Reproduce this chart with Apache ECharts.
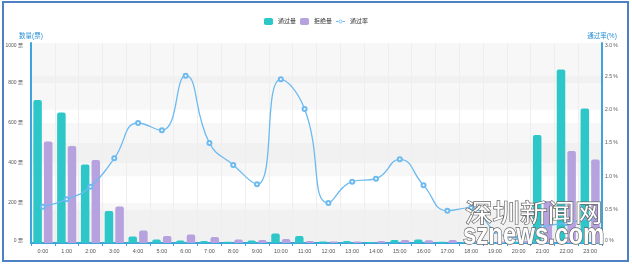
<!DOCTYPE html>
<html>
<head>
<meta charset="utf-8">
<script src="https://cdn.jsdelivr.net/npm/echarts@6/dist/echarts.min.js"></script>
<style>
html,body{margin:0;padding:0;background:#fff;}
#chart{width:632px;height:265px;}
</style>
</head>
<body>
<div id="chart"></div>
<script>
var categories = ['0:00','1:00','2:00','3:00','4:00','5:00','6:00','7:00','8:00','9:00','10:00','11:00','12:00','13:00','14:00','15:00','16:00','17:00','18:00','19:00','20:00','21:00','22:00','23:00'];
var passCount = [715, 652, 393, 160, 32, 18, 12, 10, 6, 12, 47, 35, 7, 10, 5, 15, 18, 6, 5, 5, 8, 540, 868, 673];
var rejectCount = [507, 485, 415, 182, 62, 35, 42, 30, 18, 15, 20, 10, 7, 8, 10, 15, 14, 15, 10, 8, 10, 210, 460, 418];
var passRate = [0.545, 0.655, 0.845, 1.27, 1.80, 1.69, 2.51, 1.50, 1.17, 0.88, 2.455, 2.01, 0.60, 0.92, 0.965, 1.255, 0.865, 0.485, 0.53, 0.18, 0.08, 0.24, 0.30, 0.37];
var seriesNames = ['通过量', '拒绝量', '通过率'];

var FONT = '"Liberation Sans", "Noto Sans CJK SC", sans-serif';
var axisBlue = '#3fa3dc';
var band = ['rgba(200,200,200,0.14)', 'rgba(255,255,255,0)'];
var lineIcon = 'path://M0,2h4v1.2h-4z M8,2h4v1.2h-4z M6,0a2.6,2.6 0 1,0 0.001,0z M6,1a1.6,1.6 0 1,1 -0.001,0z';

var chart = echarts.init(document.getElementById('chart'), null, {renderer: 'canvas'});
chart.setOption({
  animation: false,
  textStyle: {fontFamily: FONT},
  color: ['#2ec7c9', '#b6a2de', '#6cbaf0'],
  legend: {
    top: 13,
    left: 'center',
    itemWidth: 9,
    itemHeight: 7,
    itemGap: 4,
    textStyle: {fontSize: 6, color: '#333', fontFamily: FONT},
    data: [{name: seriesNames[0]}, {name: seriesNames[1]}, {name: seriesNames[2], icon: lineIcon}]
  },
  grid: {left: 31, right: 30, top: 43, bottom: 22, containLabel: false},
  xAxis: {
    type: 'category',
    data: categories,
    boundaryGap: true,
    axisLine: {lineStyle: {color: axisBlue, width: 2}},
    axisTick: {show: true, length: 3, lineStyle: {color: axisBlue}},
    axisLabel: {fontSize: 5.5, color: '#555', margin: 6, interval: 0},
    splitLine: {show: true, lineStyle: {color: '#eeeeee'}}
  },
  yAxis: [{
    type: 'value',
    name: '数量(票)',
    nameLocation: 'end',
    nameGap: 4,
    nameTextStyle: {fontSize: 6.5, color: '#2a8fd6', align: 'center'},
    min: 0, max: 1000, interval: 200,
    axisLine: {show: true, lineStyle: {color: axisBlue, width: 2}},
    axisTick: {show: false},
    axisLabel: {fontSize: 5, color: '#555', margin: 8,
      formatter: function (v) { return v + ' 票'; },
      verticalAlignMinLabel: 'bottom', verticalAlignMaxLabel: 'top'},
    splitLine: {show: false},
    splitArea: {show: true, areaStyle: {color: band}}
  }, {
    type: 'value',
    name: '通过率(%)',
    nameLocation: 'end',
    nameGap: 4,
    nameTextStyle: {fontSize: 6.5, color: '#2a8fd6', align: 'center'},
    min: 0, max: 3, interval: 0.5,
    position: 'right',
    axisLine: {show: true, lineStyle: {color: axisBlue, width: 2}},
    axisTick: {show: false},
    axisLabel: {fontSize: 5, color: '#555', margin: 3,
      formatter: function (v) { return v === 0 ? '0 %' : v.toFixed(1) + ' %'; },
      verticalAlignMinLabel: 'bottom', verticalAlignMaxLabel: 'top'},
    splitLine: {show: false},
    splitArea: {show: true, areaStyle: {color: band}}
  }],
  series: [{
    name: seriesNames[0],
    type: 'bar',
    data: passCount,
    barWidth: 8.5,
    barGap: '25%',
    itemStyle: {color: '#2ec7c9', borderRadius: [2, 2, 0, 0]}
  }, {
    name: seriesNames[1],
    type: 'bar',
    data: rejectCount,
    barWidth: 8.5,
    barGap: '25%',
    itemStyle: {color: '#b6a2de', borderRadius: [2, 2, 0, 0]}
  }, {
    name: seriesNames[2],
    type: 'line',
    yAxisIndex: 1,
    data: passRate,
    smooth: true,
    symbol: 'emptyCircle',
    symbolSize: 4,
    lineStyle: {color: '#6cbaf0', width: 1.3},
    itemStyle: {color: '#6cbaf0', borderWidth: 1}
  }],
  graphic: [{
    type: 'rect',
    silent: true,
    shape: {x: 3, y: 2, width: 625, height: 259},
    style: {fill: 'none', stroke: '#4d80c4', lineWidth: 2},
    z: 100
  }, {
    type: 'text',
    silent: true,
    x: 465, y: 200,
    scaleX: 1.1,
    style: {text: '深圳新闻网', font: '25px "Noto Sans CJK SC"', fill: '#ffffff', stroke: '#666666', lineWidth: 1.3},
    z: 100
  }, {
    type: 'text',
    silent: true,
    x: 463, y: 221,
    scaleX: 0.8,
    style: {text: 'sznews.com', font: 'bold 30px "Liberation Sans"', fill: '#ffffff', stroke: '#666666', lineWidth: 1.5},
    z: 100
  }]
});
</script>
</body>
</html>
